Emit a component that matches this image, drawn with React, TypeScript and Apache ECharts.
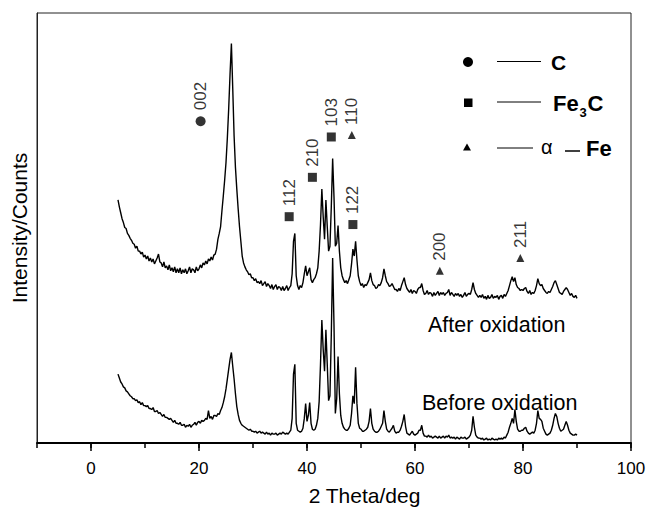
import React, { useEffect, useRef } from "react";
import * as echarts from "echarts";

// 2-theta sampling of both patterns (degrees)
const START = 5;
const STEP = 0.25;

// Intensity (arbitrary units), one row per degree: .00 .25 .50 .75
const afterOxidation = [
  247, 240, 234, 228,
  224, 219, 218, 213,
  211, 208, 206, 203,
  202, 198, 200, 195,
  195, 192, 194, 189,
  191, 187, 190, 185,
  188, 184, 187, 182,
  185, 188, 192, 184,
  183, 179, 184, 178,
  180, 176, 181, 175,
  178, 174, 179, 173,
  177, 173, 178, 172,
  176, 173, 177, 172,
  175, 179, 173, 177,
  176, 173, 179, 175,
  177, 181, 178, 183,
  181, 185, 182, 187,
  185, 189, 186, 191,
  192, 197, 207, 213,
  220, 236, 251, 267,
  285, 310, 340, 375,
  406, 360, 312, 280,
  258, 238, 220, 205,
  190, 183, 179, 176,
  174, 171, 172, 168,
  168, 165, 167, 163,
  164, 162, 165, 160,
  162, 164, 159, 162,
  160, 157, 161, 156,
  159, 161, 156, 159,
  158, 155, 159, 155,
  157, 160, 155, 158,
  160, 172, 205, 213,
  170, 160, 156, 160,
  158, 163, 172, 180,
  170, 174, 178, 166,
  163, 166, 168, 172,
  178, 195, 222, 258,
  230, 207, 247, 220,
  195, 200, 240, 289,
  250, 200, 203, 221,
  195, 178, 170, 166,
  163, 165, 162, 166,
  170, 182, 197, 190,
  205, 186, 170, 164,
  160, 162, 158, 161,
  160, 163, 166, 173,
  165, 161, 160, 157,
  158, 161, 160, 163,
  168, 177, 170, 164,
  162, 159, 160, 162,
  159, 156, 156, 154,
  157, 155, 160, 164,
  168, 161, 157, 155,
  153, 156, 152, 155,
  154, 152, 156, 158,
  158, 162, 155, 151,
  152, 155, 151, 153,
  152, 149, 153, 150,
  152, 154, 150, 153,
  151, 153, 150, 152,
  153, 156, 150, 153,
  151, 149, 152, 150,
  152, 149, 151, 148,
  150, 153, 149, 151,
  152, 151, 156, 163,
  156, 152, 150, 148,
  150, 148, 151, 147,
  149, 146, 150, 147,
  148, 151, 147, 149,
  148, 150, 146, 149,
  150, 147, 151, 149,
  152, 155, 160, 165,
  169, 164, 168, 161,
  158, 157, 155, 156,
  155, 157, 158, 154,
  152, 155, 151, 153,
  152, 155, 160, 167,
  162, 160, 161, 157,
  155, 153, 152, 154,
  153, 156, 159, 163,
  165, 161, 157, 153,
  152, 151, 154, 156,
  158, 156, 153, 150,
  152, 149, 148, 150,
  147,
];

const beforeOxidation = [
  70, 66, 62, 60,
  57, 56, 53, 52,
  50, 48, 47, 45,
  45, 43, 44, 41,
  42, 39, 41, 38,
  38, 37, 38, 35,
  35, 34, 36, 32,
  32, 33, 30, 31,
  29, 27, 29, 26,
  26, 25, 24, 25,
  23, 21, 23, 20,
  20, 19, 21, 18,
  18, 19, 16, 18,
  17, 19, 16, 18,
  19, 21, 18, 21,
  22, 20, 23, 22,
  23, 25, 24, 33,
  25, 27, 24, 28,
  28, 27, 30, 29,
  33, 36, 41, 47,
  55, 65, 75, 85,
  92, 78, 65, 50,
  37, 29, 23, 20,
  18, 17, 16, 15,
  14, 13, 14, 12,
  12, 11, 12, 10,
  11, 12, 10, 11,
  10, 9, 11, 9,
  10, 8, 10, 9,
  9, 10, 8, 9,
  10, 9, 11, 10,
  9, 10, 9, 11,
  13, 25, 70, 80,
  20, 13, 12, 11,
  12, 15, 25, 40,
  22, 28, 41, 20,
  14, 13, 14, 18,
  25, 42, 80, 125,
  95, 73, 115, 80,
  43, 48, 110, 188,
  120, 30, 45, 88,
  50, 28, 20, 16,
  14, 13, 13, 15,
  18, 30, 48, 40,
  77, 40, 20, 15,
  14, 12, 12, 13,
  14, 16, 22, 35,
  20, 14, 12, 11,
  11, 12, 14, 17,
  20, 33, 22, 14,
  12, 11, 13, 15,
  18, 12, 10, 11,
  11, 13, 17, 22,
  29, 17, 10, 9,
  8, 10, 12, 9,
  8, 9, 10, 13,
  13, 18, 10, 7,
  7, 6, 8, 6,
  7, 5, 6, 7,
  6, 5, 7, 5,
  6, 7, 5, 7,
  6, 8, 5, 6,
  5, 6, 4, 6,
  5, 4, 6, 5,
  5, 6, 4, 5,
  6, 8, 13, 27,
  16, 8, 6, 5,
  5, 4, 5, 3,
  4, 5, 3, 4,
  3, 5, 4, 3,
  4, 3, 5, 4,
  5, 4, 6, 5,
  8, 11, 16, 20,
  25, 20, 34, 22,
  14, 12, 12, 13,
  13, 15, 16, 12,
  10, 9, 10, 11,
  10, 13, 20, 33,
  25, 24, 22, 15,
  12, 9, 8, 9,
  10, 13, 18, 25,
  30, 27, 20, 15,
  12, 13, 14, 18,
  22, 18, 13, 10,
  9, 8, 8, 9,
  8,
];

const xLabelValues = [0, 20, 40, 60, 80, 100];

// Peak indexing marks
const peakHkl = ["002", "112", "210", "103", "110", "122", "200", "211"];
const peakPhase = ["C", "Fe3C", "Fe3C", "Fe3C", "Fe", "Fe3C", "Fe", "Fe"];
const peakTheta = [20.3, 36.7, 41.0, 44.5, 48.3, 48.5, 64.6, 79.5];
const peakLevel = [327, 230, 270, 311, 313, 222, 175, 188];

const phaseSymbol: Record<string, string> = { C: "circle", Fe3C: "rect", Fe: "triangle" };
const phaseSize: Record<string, number> = { C: 10, Fe3C: 9, Fe: 8 };

const FONT = "'Liberation Sans', Arial, Helvetica, sans-serif";

export default function App() {
  const ref = useRef<HTMLDivElement>(null);

  useEffect(() => {
    if (!ref.current) return;
    const chart = echarts.init(ref.current, null, { renderer: "svg" });

    const toPairs = (vals: number[]) => vals.map((v, i) => [START + i * STEP, v]);

    const txt = (text: string, x: number, y: number, size: number, weight: string = "normal") => ({
      type: "text",
      x,
      y,
      silent: true,
      style: {
        text,
        fill: "#000",
        fontSize: size,
        fontWeight: weight,
        fontFamily: FONT,
        verticalAlign: "middle",
        align: "left",
      },
    });
    const hline = (x1: number, x2: number, y: number, w = 1) => ({
      type: "line",
      silent: true,
      shape: { x1, y1: y, x2, y2: y },
      style: { stroke: "#000", lineWidth: w },
    });

    const option: any = {
      animation: false,
      grid: {
        left: 37,
        right: 18,
        top: 13,
        bottom: 61,
        show: true,
        borderColor: "#222",
        borderWidth: 1,
        containLabel: false,
      },
      xAxis: [
        {
          type: "value",
          min: -10,
          max: 100,
          interval: 10,
          position: "bottom",
          axisLine: { show: true, onZero: false, lineStyle: { color: "#000", width: 2 } },
          axisTick: { show: true, length: 5, lineStyle: { color: "#000", width: 1.5 } },
          axisLabel: {
            formatter: (v: number) => (xLabelValues.includes(v) ? String(v) : ""),
            fontSize: 17,
            color: "#000",
            fontFamily: FONT,
            margin: 17,
          },
          splitLine: { show: false },
          name: "2 Theta/deg",
          nameLocation: "middle",
          nameGap: 42,
          nameTextStyle: {
            fontSize: 21,
            color: "#000",
            fontFamily: FONT,
            padding: [0, 0, 0, 61],
          },
        },
        {
          type: "value",
          min: -10,
          max: 100,
          interval: 10,
          position: "bottom",
          gridIndex: 0,
          axisLine: { show: false, onZero: false },
          axisTick: {
            show: true,
            length: 8,
            customValues: xLabelValues,
            lineStyle: { color: "#000", width: 1.5 },
          },
          axisLabel: { show: false },
          splitLine: { show: false },
        },
      ],
      yAxis: {
        type: "value",
        min: 0,
        max: 437,
        axisLine: { show: true, onZero: false, lineStyle: { color: "#222", width: 1 } },
        axisTick: { show: false },
        axisLabel: { show: false },
        splitLine: { show: false },
        name: "Intensity/Counts",
        nameLocation: "middle",
        nameRotate: 90,
        nameGap: 7,
        nameTextStyle: { fontSize: 21, color: "#000", fontFamily: FONT },
      },
      series: [
        {
          name: "After oxidation",
          type: "line",
          xAxisIndex: 0,
          data: toPairs(afterOxidation),
          symbol: "none",
          silent: true,
          lineStyle: { color: "#000", width: 1.4 },
        },
        {
          name: "Before oxidation",
          type: "line",
          xAxisIndex: 0,
          data: toPairs(beforeOxidation),
          symbol: "none",
          silent: true,
          lineStyle: { color: "#000", width: 1.4 },
        },
        {
          name: "peaks",
          type: "scatter",
          xAxisIndex: 0,
          silent: true,
          itemStyle: { color: "#000" },
          data: peakHkl.map((h, i) => ({
            value: [peakTheta[i], peakLevel[i]],
            symbol: phaseSymbol[peakPhase[i]],
            symbolSize: phaseSize[peakPhase[i]],
            label: { formatter: h },
          })),
          label: {
            show: true,
            position: "top",
            rotate: 90,
            align: "left",
            verticalAlign: "middle",
            distance: 6,
            fontSize: 17,
            color: "#000",
            fontFamily: FONT,
          },
        },
      ],
      graphic: [
        // legend: C
        { type: "circle", silent: true, shape: { cx: 468, cy: 62, r: 5 }, style: { fill: "#000" } },
        hline(497, 541, 61.5),
        txt("C", 551, 62, 21, "bold"),
        // legend: Fe3C
        { type: "rect", silent: true, shape: { x: 464, y: 98.5, width: 8.5, height: 8.5 }, style: { fill: "#000" } },
        hline(497, 541, 102),
        txt("Fe", 553, 103, 22, "bold"),
        txt("3", 579.5, 112, 13, "bold"),
        txt("C", 587.5, 103, 22, "bold"),
        // legend: alpha-Fe
        {
          type: "polygon",
          silent: true,
          shape: { points: [[467, 143.5], [471, 150.5], [463, 150.5]] },
          style: { fill: "#000" },
        },
        hline(497, 533, 148),
        txt("α", 541, 147, 20),
        hline(565, 580, 151, 1.5),
        txt("Fe", 586, 148, 22, "bold"),
        // sample labels
        txt("After oxidation", 428, 325, 21.5),
        txt("Before oxidation", 422, 403, 21.5),
      ],
    };

    chart.setOption(option);
    return () => chart.dispose();
  }, []);

  return (
    <div
      ref={ref}
      style={{ position: "fixed", left: 0, top: 0, width: 649, height: 511, background: "#fff" }}
    />
  );
}
